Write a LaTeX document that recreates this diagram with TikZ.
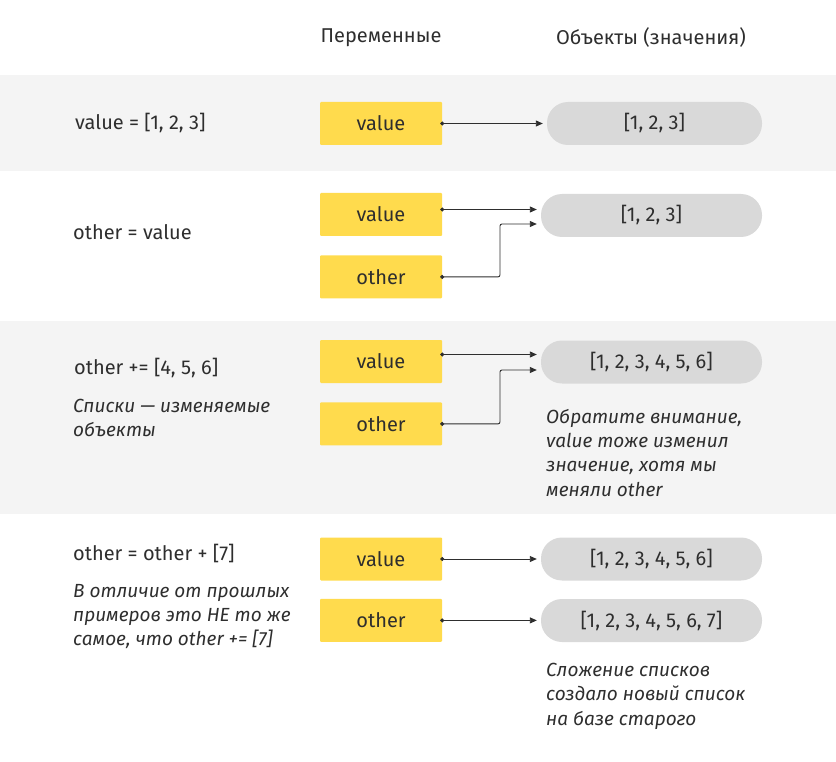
\documentclass[tikz,border=0pt]{standalone}
\usepackage{fontspec}
\setmainfont{Fira Sans}
\usepackage{tikz}
\usetikzlibrary{arrows.meta, positioning, calc}
\definecolor{varyellow}{HTML}{FFDB4D}
\definecolor{objgray}{HTML}{D9D9D9}
\definecolor{bandgray}{HTML}{F4F4F4}
\definecolor{inkgray}{HTML}{2E2E2E}

\begin{document}
\begin{tikzpicture}[x=1pt, y=-1pt, every node/.style={text=inkgray, font=\fontsize{20}{24}\selectfont}, var/.style={fill=varyellow, rounded corners=1pt, minimum width=122pt, minimum height=43pt, inner sep=0pt}, obj/.style={fill=objgray, rounded corners=21pt, minimum width=221pt, minimum height=43pt, inner sep=0pt}, link/.style={draw=inkgray, line width=0.9pt, {Circle[length=4pt]}-{Triangle[length=7pt, width=6pt]}, shorten <=-2pt, shorten >=4pt, rounded corners=2pt}, code/.style={anchor=west, inner sep=0pt}, note/.style={anchor=north west, align=left, inner sep=0pt, font=\fontsize{19}{24.3}\selectfont\itshape}]

	\useasboundingbox (0,0) rectangle (836,762);
	\fill[bandgray] (0,75) rectangle (836,171);
	\fill[bandgray] (0,321) rectangle (836,514);

	\node (hv) at (381,38) {Переменные};
	\node (ho) at (651,38) {Объекты (значения)};

	\node[code] (c1) at (75,123.5) {value = [1, 2, 3]};
	\node[var] (v1) at (381,123.5) {value};
	\node[obj, minimum width=215pt] (o1) at (654.5,123.5) {[1, 2, 3]};
	\draw[link] (v1.east) -- (v1.east -| o1.west);

	\node[code] (c2) at (73,232) {other = value};
	\node[var] (v2) at (381,214.5) {value};
	\node[var, below=19pt of v2] (w2) {other};
	\node[obj] (o2) at (651.5,215.5) {[1, 2, 3]};
	\coordinate (k2) at (500,224);
	\draw[link] ([yshift=5pt]v2.east) -- ([yshift=5pt]v2.east -| o2.west);
	\draw[link] (w2.east) -| (k2) -- (k2 -| o2.west);

	\node[code] (c3) at (74,368) {other += [4, 5, 6]};
	\node[note] (n3) at (73,399) {Списки — изменяемые\\объекты};
	\node[var] (v3) at (381,361.5) {value};
	\node[var, below=19pt of v3] (w3) {other};
	\node[obj] (o3) at (651.5,362) {[1, 2, 3, 4, 5, 6]};
	\node[note] (m3) at (546,409) {Обратите внимание,\\value тоже изменил\\значение, хотя мы\\меняли other};
	\coordinate (k3) at (500,370);
	\draw[link] ([yshift=7pt]v3.east) -- ([yshift=7pt]v3.east -| o3.west);
	\draw[link] (w3.east) -| (k3) -- (k3 -| o3.west);

	\node[code] (c4) at (73,553) {other = other + [7]};
	\node[note] (n4) at (73,584) {В отличие от прошлых\\примеров это НЕ то же\\самое, что other += [7]};
	\node[var] (v4) at (381,559) {value};
	\node[var, below=18pt of v4] (w4) {other};
	\node[obj] (o4) at (651.5,559) {[1, 2, 3, 4, 5, 6]};
	\node[obj] (p4) at (651.5,620.5) {[1, 2, 3, 4, 5, 6, 7]};
	\node[note] (m4) at (546,663) {Сложение списков\\создало новый список\\на базе старого};
	\draw[link] (v4.east) -- (v4.east -| o4.west);
	\draw[link] (w4.east) -- (w4.east -| p4.west);

\end{tikzpicture}
\end{document}
